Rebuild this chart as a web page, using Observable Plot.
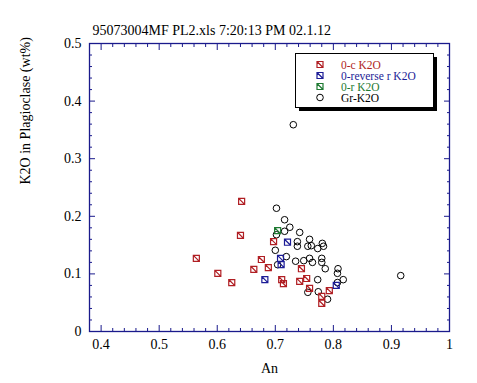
<!DOCTYPE html>
<html>
<head>
<meta charset="utf-8">
<script src="https://cdn.jsdelivr.net/npm/d3@7"></script>
<script src="https://cdn.jsdelivr.net/npm/@observablehq/plot@0.6"></script>
<style>
  html, body { margin: 0; padding: 0; background: white; }
</style>
</head>
<body>
<div id="chart"></div>
<script>
const title = "95073004MF PL2.xls 7:20:13 PM 02.1.12";
const xLabel = "An";
const yLabel = "K2O in Plagioclase (wt%)";
const seriesNames = ["0-c K2O", "0-reverse r K2O", "0-r K2O", "Gr-K2O"];
const seriesColors = ["#b01e23", "#1c1c96", "#1e7a32", "#000000"];

// 0-c K2O
const cAn  = [0.642, 0.640, 0.564, 0.601, 0.625, 0.663, 0.676, 0.688, 0.697, 0.711, 0.714, 0.745, 0.742, 0.754, 0.759, 0.780, 0.780, 0.793];
const cK2O = [0.226, 0.167, 0.127, 0.101, 0.085, 0.108, 0.125, 0.111, 0.156, 0.090, 0.083, 0.109, 0.087, 0.092, 0.075, 0.061, 0.049, 0.071];
// 0-reverse r K2O
const rvAn  = [0.682, 0.721, 0.709, 0.710, 0.805];
const rvK2O = [0.090, 0.155, 0.127, 0.116, 0.080];
// 0-r K2O
const rAn  = [0.704];
const rK2O = [0.175];
// Gr-K2O
const gAn  = [0.731, 0.916, 0.702, 0.716, 0.725, 0.716, 0.742, 0.738, 0.738, 0.759, 0.756, 0.762, 0.781, 0.783, 0.773, 0.700, 0.702, 0.704, 0.719, 0.735, 0.749, 0.759, 0.764, 0.780, 0.780, 0.773, 0.756, 0.774, 0.790, 0.807, 0.807, 0.808, 0.817, 0.786];
const gK2O = [0.359, 0.097, 0.214, 0.194, 0.181, 0.174, 0.172, 0.156, 0.148, 0.160, 0.148, 0.149, 0.153, 0.148, 0.144, 0.141, 0.168, 0.116, 0.130, 0.122, 0.123, 0.127, 0.120, 0.127, 0.120, 0.090, 0.068, 0.069, 0.056, 0.101, 0.085, 0.109, 0.090, 0.109];

const xMajor = [0.4, 0.5, 0.6, 0.7, 0.8, 0.9, 1.0];
const xMajorLabels = ["0.4", "0.5", "0.6", "0.7", "0.8", "0.9", "1"];
const xMinor = [0.38, 0.42, 0.44, 0.46, 0.48, 0.52, 0.54, 0.56, 0.58, 0.62, 0.64, 0.66, 0.68, 0.72, 0.74, 0.76, 0.78, 0.82, 0.84, 0.86, 0.88, 0.92, 0.94, 0.96, 0.98];
const yMajor = [0, 0.1, 0.2, 0.3, 0.4, 0.5];
const yMajorLabels = ["0", "0.1", "0.2", "0.3", "0.4", "0.5"];
const yMinor = [0.02, 0.04, 0.06, 0.08, 0.12, 0.14, 0.16, 0.18, 0.22, 0.24, 0.26, 0.28, 0.32, 0.34, 0.36, 0.38, 0.42, 0.44, 0.46, 0.48];

const toRows = (xs, ys, s) => xs.map((x, i) => ({An: x, K2O: ys[i], series: s}));
const cRows = toRows(cAn, cK2O, seriesNames[0]);
const rvRows = toRows(rvAn, rvK2O, seriesNames[1]);
const rRows = toRows(rAn, rK2O, seriesNames[2]);
const gRows = toRows(gAn, gK2O, seriesNames[3]);

const squareX = {
  draw(ctx, size) {
    const h = Math.sqrt(size) / 2;
    ctx.moveTo(-h, -h); ctx.lineTo(h, -h); ctx.lineTo(h, h); ctx.lineTo(-h, h); ctx.closePath();
    ctx.moveTo(-h, -h); ctx.lineTo(h, h);
  }
};

const axisColor = "#1a1a8c";
const xLabelMap = new Map(xMajor.map((v, i) => [v, xMajorLabels[i]]));
const yLabelMap = new Map(yMajor.map((v, i) => [v, yMajorLabels[i]]));
const blank = () => "";
const font = "Liberation Serif, Times New Roman, serif";

const plot = Plot.plot({
  width: 477,
  height: 383,
  marginLeft: 89,
  marginRight: 28,
  marginTop: 43,
  marginBottom: 52,
  style: {fontFamily: font, background: "white", color: "black"},
  x: {domain: [0.38, 1]},
  y: {domain: [0, 0.5]},
  marks: [
    // ticks (inward), all four sides
    Plot.axisX({anchor: "bottom", ticks: xMajor, tickSize: 6, dy: -6, tickFormat: blank, label: null, stroke: axisColor}),
    Plot.axisX({anchor: "bottom", ticks: xMinor, tickSize: 3, dy: -3, tickFormat: blank, label: null, stroke: axisColor}),
    Plot.axisX({anchor: "top", ticks: xMajor, tickSize: 6, dy: 6, tickFormat: blank, label: null, stroke: axisColor}),
    Plot.axisX({anchor: "top", ticks: xMinor, tickSize: 3, dy: 3, tickFormat: blank, label: null, stroke: axisColor}),
    Plot.axisY({anchor: "left", ticks: yMajor, tickSize: 6, dx: 6, tickFormat: blank, label: null, stroke: axisColor}),
    Plot.axisY({anchor: "left", ticks: yMinor, tickSize: 3, dx: 3, tickFormat: blank, label: null, stroke: axisColor}),
    Plot.axisY({anchor: "right", ticks: yMajor, tickSize: 6, dx: -6, tickFormat: blank, label: null, stroke: axisColor}),
    Plot.axisY({anchor: "right", ticks: yMinor, tickSize: 3, dx: -3, tickFormat: blank, label: null, stroke: axisColor}),
    // tick labels
    Plot.axisX({anchor: "bottom", ticks: xMajor, tickSize: 0, tickPadding: 8, tickFormat: d => xLabelMap.get(d), label: null, fontSize: 14, fontFamily: font, fill: "black"}),
    Plot.axisY({anchor: "left", ticks: yMajor, tickSize: 0, tickPadding: 8, tickFormat: d => yLabelMap.get(d), label: null, fontSize: 14, fontFamily: font, fill: "black"}),
    Plot.frame({stroke: axisColor, strokeWidth: 1.3}),
    // data
    Plot.dot(gRows, {x: "An", y: "K2O", r: 3.3, stroke: seriesColors[3], strokeWidth: 1, symbol: "circle"}),
    Plot.dot(cRows, {x: "An", y: "K2O", r: 3.4, stroke: seriesColors[0], strokeWidth: 1.2, symbol: squareX}),
    Plot.dot(rvRows, {x: "An", y: "K2O", r: 3.4, stroke: seriesColors[1], strokeWidth: 1.2, symbol: squareX}),
    Plot.dot(rRows, {x: "An", y: "K2O", r: 3.4, stroke: seriesColors[2], strokeWidth: 1.2, symbol: squareX}),
    // title and axis labels
    Plot.text([title], {text: d => d, frameAnchor: "top-left", textAnchor: "start", dx: 3, dy: -18, fontSize: 14, fontFamily: font, fill: "black"}),
    Plot.text([xLabel], {text: d => d, frameAnchor: "bottom", dy: 41, fontSize: 14, fontFamily: font, fill: "black"}),
    Plot.text([yLabel], {text: d => d, frameAnchor: "left", rotate: -90, dx: -64, dy: -3, fontSize: 14, fontFamily: font, fill: "black"})
  ]
});

// legend box
const svg = d3.select(plot);
const lg = svg.append("g").attr("font-family", font).attr("font-size", 11.5).attr("text-anchor", "start");
lg.append("rect").attr("x", 299).attr("y", 57).attr("width", 138).attr("height", 54).attr("fill", "black");
lg.append("rect").attr("x", 295.5).attr("y", 53.5).attr("width", 138).attr("height", 54).attr("fill", "white").attr("stroke", "black");
const legendYs = [64.5, 75.5, 86.5, 97.5];
seriesNames.forEach((name, i) => {
  const y = legendYs[i];
  if (i < 3) {
    const h = 3;
    lg.append("path").attr("d", `M${320-h},${y-h}H${320+h}V${y+h}H${320-h}Z M${320-h},${y-h}L${320+h},${y+h}`)
      .attr("fill", "none").attr("stroke", seriesColors[i]).attr("stroke-width", 1.2);
  } else {
    lg.append("circle").attr("cx", 320).attr("cy", y).attr("r", 3.3).attr("fill", "none").attr("stroke", "black");
  }
  lg.append("text").attr("x", 341).attr("y", y).attr("dy", "0.35em").attr("text-anchor", "start").attr("fill", seriesColors[i]).text(name);
});

document.getElementById("chart").appendChild(plot);
</script>
</body>
</html>
